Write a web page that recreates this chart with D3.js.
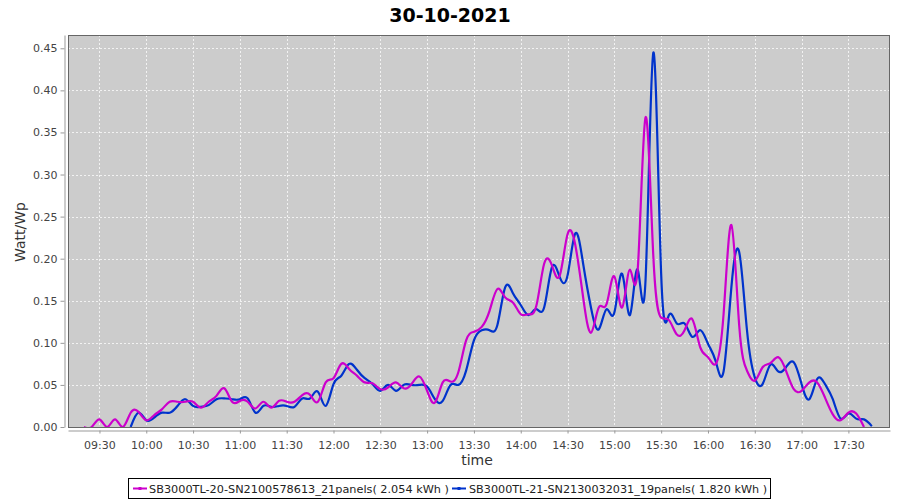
<!DOCTYPE html>
<html>
<head>
<meta charset="utf-8">
<script src="https://cdn.jsdelivr.net/npm/d3@7"></script>
<style>
  body { margin: 0; background: #fff; }
  svg { font-family: "DejaVu Sans", sans-serif; }
</style>
</head>
<body>
<div id="chart"></div>
<script>
// 5 minute samples
let times = [
  "09:20","09:25","09:30","09:35","09:40","09:45","09:50","09:55",
  "10:00","10:05","10:10","10:15","10:20","10:25","10:30","10:35","10:40","10:45","10:50","10:55",
  "11:00","11:05","11:10","11:15","11:20","11:25","11:30","11:35","11:40","11:45","11:50","11:55",
  "12:00","12:05","12:10","12:15","12:20","12:25","12:30","12:35","12:40","12:45","12:50","12:55",
  "13:00","13:05","13:10","13:15","13:20","13:25","13:30","13:35","13:40","13:45","13:50","13:55",
  "14:00","14:05","14:10","14:15","14:20","14:25","14:30","14:35","14:40","14:45","14:50","14:55",
  "15:00","15:05","15:10","15:15","15:20","15:25","15:30","15:35","15:40","15:45","15:50","15:55",
  "16:00","16:05","16:10","16:15","16:20","16:25","16:30","16:35","16:40","16:45","16:50","16:55",
  "17:00","17:05","17:10","17:15","17:20","17:25","17:30","17:35","17:40","17:45"
];

let inverter20 = [
  0,0,0.009,0,0.009,0,0.017,0.018,
  0.008,0.014,0.021,0.030,0.030,0.030,0.030,0.023,0.030,0.037,0.046,0.030,
  0.031,0.030,0.022,0.030,0.023,0.031,0.030,0.030,0.038,0.038,0.030,0.053,
  0.058,0.075,0.069,0.061,0.053,0.052,0.045,0.047,0.053,0.046,0.051,0.060,
  0.043,0.029,0.053,0.054,0.065,0.103,0.113,0.119,0.138,0.164,0.154,0.148,
  0.134,0.134,0.144,0.194,0.192,0.180,0.229,0.216,0.154,0.112,0.142,0.146,
  0.179,0.142,0.187,0.188,0.368,0.202,0.130,0.127,0.110,0.115,0.128,0.095,
  0.083,0.075,0.134,0.240,0.121,0.067,0.055,0.071,0.076,0.083,0.067,0.045,
  0.043,0.053,0.053,0.035,0.015,0.008,0.017,0.016,0,null
];

let inverter21 = [
  null,null,null,null,null,null,0,0.017,
  0.008,0.011,0.017,0.017,0.025,0.033,0.025,0.024,0.026,0.033,0.034,0.033,
  0.033,0.034,0.017,0.025,0.024,0.025,0.025,0.024,0.034,0.034,0.042,0.025,
  0.051,0.061,0.075,0.068,0.058,0.051,0.043,0.050,0.043,0.050,0.050,0.050,
  0.048,0.033,0.031,0.050,0.050,0.067,0.103,0.115,0.115,0.121,0.166,0.159,
  0.145,0.133,0.140,0.142,0.190,0.178,0.180,0.230,0.194,0.142,0.116,0.140,
  0.136,0.182,0.133,0.187,0.175,0.445,0.182,0.133,0.123,0.123,0.107,0.115,
  0.099,0.078,0.066,0.166,0.208,0.115,0.059,0.051,0.074,0.066,0.071,0.077,
  0.051,0.033,0.057,0.051,0.033,0.010,0.016,0.010,0.009,0.001
];

let seriesNames = [
  "SB3000TL-20-SN2100578613_21panels( 2.054 kWh )",
  "SB3000TL-21-SN2130032031_19panels( 1.820 kWh )"
];
let seriesColors = ["#cc00cc", "#0033cc"];
let yTicks = [0, 0.05, 0.10, 0.15, 0.20, 0.25, 0.30, 0.35, 0.40, 0.45];

let width = 900, height = 500;
let plot = {left: 68, top: 35, right: 890, bottom: 427};

let parseTime = d3.timeParse("%Y-%m-%d %H:%M");
let day = "2021-10-30 ";

let svg = d3.select("#chart").append("svg")
  .attr("width", width)
  .attr("height", height);

// domain picked so that ticks fall on the reference pixel positions
let x = d3.scaleTime()
  .domain([new Date(parseTime(day + "09:09").getTime() + 50000), new Date(parseTime(day + "17:56").getTime() + 40000)])
  .range([plot.left, plot.right]);

let y = d3.scaleLinear()
  .domain([0, 0.4658])
  .range([plot.bottom, plot.top]);

// plot background
svg.append("rect")
  .attr("x", plot.left).attr("y", plot.top)
  .attr("width", plot.right - plot.left)
  .attr("height", plot.bottom - plot.top)
  .attr("fill", "#cccccc");

let xTickValues = d3.timeMinute.every(30).range(x.domain()[0], x.domain()[1]);

// gridlines
svg.append("g")
  .selectAll("line")
  .data(xTickValues)
  .join("line")
  .attr("x1", d => Math.round(x(d)) + 0.5).attr("x2", d => Math.round(x(d)) + 0.5)
  .attr("y1", plot.top).attr("y2", plot.bottom)
  .attr("stroke", "#f2f2f2").attr("stroke-width", 1)
  .attr("stroke-dasharray", "2,2");

svg.append("g")
  .selectAll("line")
  .data(yTicks)
  .join("line")
  .attr("x1", plot.left).attr("x2", plot.right)
  .attr("y1", d => Math.round(y(d)) + 0.5).attr("y2", d => Math.round(y(d)) + 0.5)
  .attr("stroke", "#f2f2f2").attr("stroke-width", 1)
  .attr("stroke-dasharray", "2,2");

// lines
svg.append("clipPath").attr("id", "plotclip")
  .append("rect")
  .attr("x", plot.left).attr("y", plot.top)
  .attr("width", plot.right - plot.left)
  .attr("height", plot.bottom - plot.top);

let line = d3.line()
  .x(d => x(d.t))
  .y(d => y(d.v))
  .curve(d3.curveNatural);

let allSeries = [inverter20, inverter21].map(vals =>
  times.map((t, i) => ({t: parseTime(day + t), v: vals[i]})).filter(d => d.v !== null)
);

let lines = svg.append("g").attr("clip-path", "url(#plotclip)");
// second series first so the first one lies on top
[1, 0].forEach(i => {
  lines.append("path")
    .datum(allSeries[i])
    .attr("fill", "none")
    .attr("stroke", seriesColors[i])
    .attr("stroke-width", 2.2)
    .attr("stroke-linejoin", "round")
    .attr("d", line);
});

// plot border
svg.append("rect")
  .attr("x", plot.left + 0.5).attr("y", plot.top + 0.5)
  .attr("width", plot.right - plot.left - 1)
  .attr("height", plot.bottom - plot.top)
  .attr("fill", "none")
  .attr("stroke", "#666666");

// axes
let xaxis = d3.axisBottom(x)
  .tickValues(xTickValues)
  .tickFormat(d3.timeFormat("%H:%M"))
  .tickSize(3)
  .tickSizeOuter(0);

let xg = svg.append("g")
  .attr("transform", "translate(0," + (plot.bottom + 3.5) + ")")
  .call(xaxis);

let yaxis = d3.axisLeft(y)
  .tickValues(yTicks)
  .tickFormat(d3.format(".2f"))
  .tickSize(4)
  .tickSizeOuter(0);

let yg = svg.append("g")
  .attr("transform", "translate(" + (plot.left - 3.5) + ",0)")
  .call(yaxis);

[xg, yg].forEach(g => {
  g.select(".domain").attr("stroke", "#999999");
  g.selectAll(".tick line").attr("stroke", "#999999");
  g.selectAll(".tick text")
    .attr("fill", "#444444")
    .attr("font-size", 11)
    .attr("font-family", "DejaVu Sans, sans-serif");
});
xg.selectAll(".tick text").attr("dy", "1.1em");
yg.selectAll(".tick text").attr("x", -7);

// title and labels
svg.append("text")
  .attr("x", 450).attr("y", 22)
  .attr("text-anchor", "middle")
  .attr("font-size", 19)
  .attr("font-weight", "bold")
  .attr("fill", "#000")
  .text("30-10-2021");

svg.append("text")
  .attr("x", 477).attr("y", 465)
  .attr("text-anchor", "middle")
  .attr("font-size", 14)
  .attr("fill", "#333333")
  .text("time");

svg.append("text")
  .attr("transform", "translate(25,232) rotate(-90)")
  .attr("text-anchor", "middle")
  .attr("font-size", 14)
  .attr("fill", "#333333")
  .text("Watt/Wp");

// legend
let legend = svg.append("g");
legend.append("rect")
  .attr("x", 128.5).attr("y", 478.5)
  .attr("width", 642).attr("height", 20)
  .attr("fill", "#fff")
  .attr("stroke", "#000");

let legendItems = [
  {x: 133, textX: 149, len: 300},
  {x: 452, textX: 469, len: 298}
];
legendItems.forEach((it, i) => {
  legend.append("line")
    .attr("x1", it.x).attr("x2", it.x + 14)
    .attr("y1", 488.5).attr("y2", 488.5)
    .attr("stroke", seriesColors[i]).attr("stroke-width", 2);
  legend.append("rect")
    .attr("x", it.x + 5.5).attr("y", 487)
    .attr("width", 3).attr("height", 3)
    .attr("fill", seriesColors[i]);
  legend.append("text")
    .attr("x", it.textX).attr("y", 493)
    .attr("font-size", 11)
    .attr("fill", "#222")
    .attr("textLength", it.len)
    .attr("lengthAdjust", "spacingAndGlyphs")
    .text(seriesNames[i]);
});
</script>
</body>
</html>
